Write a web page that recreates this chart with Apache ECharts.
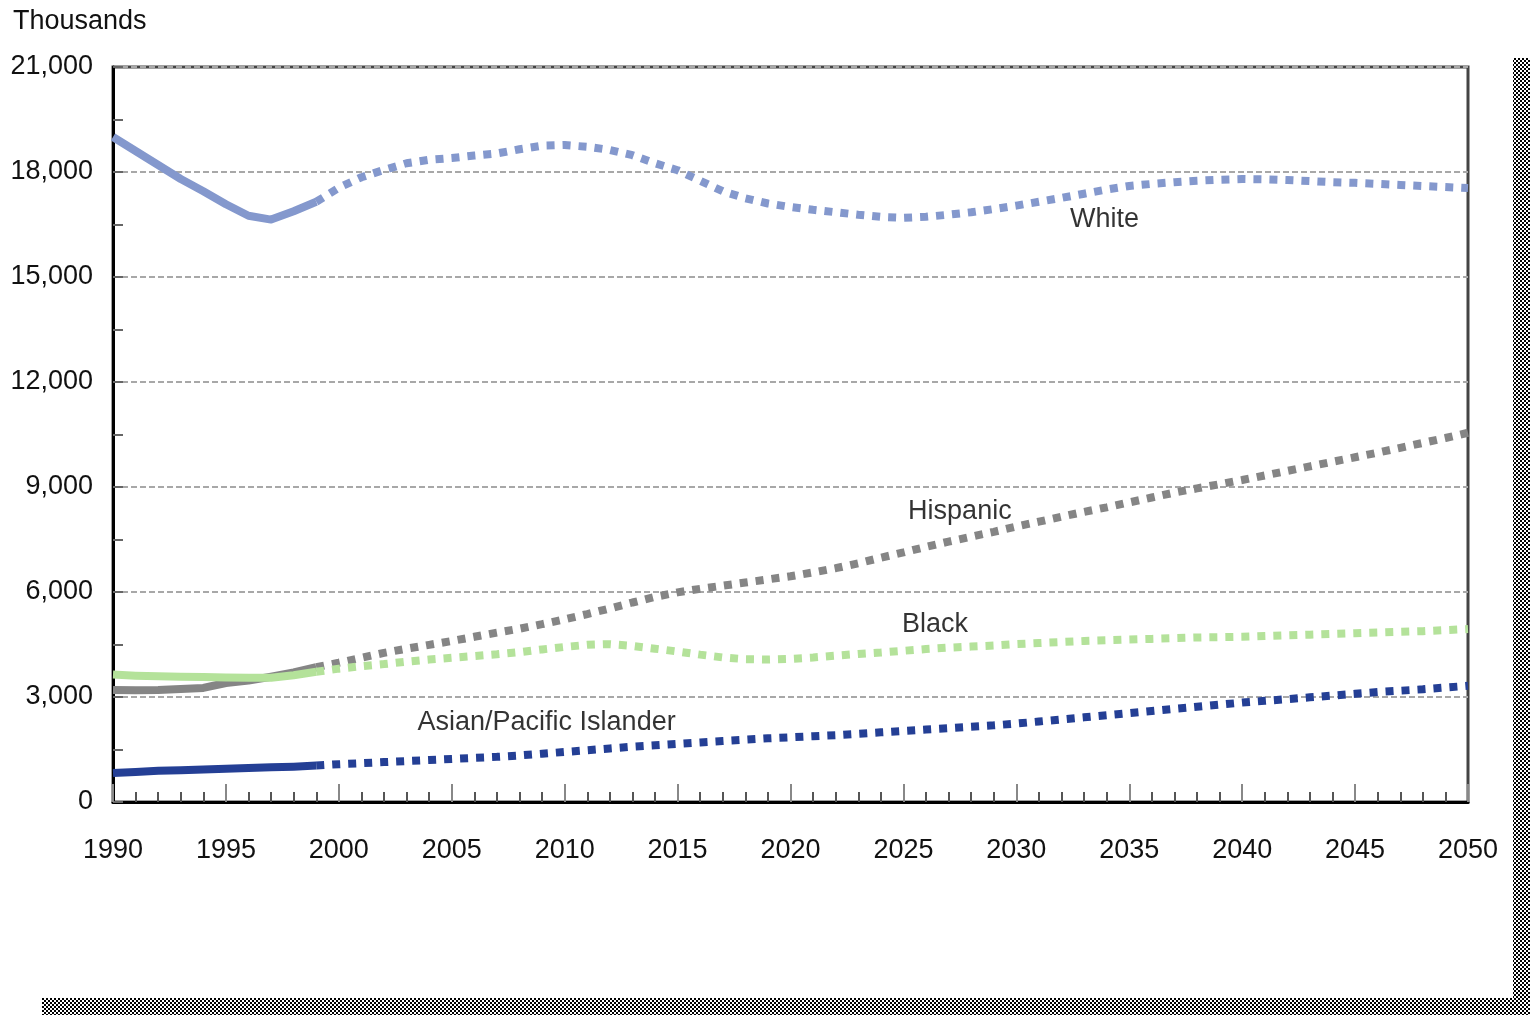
<!DOCTYPE html>
<html>
<head>
<meta charset="utf-8">
<script src="https://cdn.jsdelivr.net/npm/echarts@6/dist/echarts.min.js"></script>
<style>
html, body { margin: 0; padding: 0; background: #fff; }
#main { width: 1530px; height: 1015px; }
</style>
</head>
<body>
<div id="main"></div>
<script>
// yearly values, thousands, 1990..2050 (solid to 1999, projected after)
var years = []
for (var y = 1990; y <= 2050; y++) years.push(y)
var lastActual = 1999

var white = [19000, 18600, 18200, 17800, 17450, 17080, 16750, 16640, 16880, 17150,
  17550, 17850, 18060, 18250, 18350, 18400, 18470, 18530, 18650, 18750,
  18770, 18720, 18630, 18480, 18250, 18050, 17750, 17450, 17250, 17100,
  17000, 16920, 16850, 16780, 16720, 16690, 16720, 16780, 16850, 16940,
  17040, 17150, 17260, 17380, 17500, 17600, 17660, 17710, 17750, 17780,
  17800, 17790, 17770, 17740, 17710, 17690, 17660, 17630, 17600, 17570, 17540]

var hispanic = [3200, 3190, 3200, 3230, 3260, 3400, 3470, 3580, 3700, 3850,
  3980, 4120, 4260, 4380, 4490, 4600, 4720, 4840, 4950, 5080,
  5220, 5370, 5530, 5700, 5860, 5990, 6090, 6180, 6270, 6360,
  6450, 6560, 6680, 6820, 6980, 7130, 7290, 7440, 7580, 7720,
  7870, 8010, 8150, 8290, 8420, 8560, 8700, 8840, 8960, 9080,
  9200, 9330, 9460, 9590, 9720, 9850, 9980, 10120, 10260, 10400, 10550]

var black = [3640, 3610, 3590, 3580, 3570, 3560, 3550, 3550, 3620, 3720,
  3810, 3880, 3940, 4010, 4070, 4120, 4170, 4220, 4280, 4360,
  4430, 4490, 4510, 4460, 4380, 4300, 4210, 4130, 4080, 4070,
  4090, 4130, 4180, 4230, 4270, 4320, 4370, 4410, 4440, 4470,
  4510, 4540, 4570, 4600, 4620, 4640, 4660, 4680, 4700, 4710,
  4720, 4740, 4760, 4780, 4800, 4820, 4840, 4860, 4880, 4910, 4940]

var asian = [830, 860, 890, 910, 930, 950, 970, 990, 1010, 1040,
  1080, 1110, 1140, 1170, 1200, 1230, 1260, 1290, 1330, 1380,
  1430, 1480, 1530, 1580, 1620, 1660, 1700, 1740, 1780, 1820,
  1850, 1880, 1910, 1950, 1990, 2030, 2070, 2110, 2150, 2190,
  2240, 2300, 2360, 2420, 2480, 2540, 2600, 2660, 2720, 2780,
  2840, 2890, 2940, 2990, 3040, 3090, 3140, 3180, 3220, 3270, 3320]

var groups = [
  { name: 'White', values: white, color: '#8498cd' },
  { name: 'Hispanic', values: hispanic, color: '#858585' },
  { name: 'Black', values: black, color: '#b4e29a' },
  { name: 'Asian/Pacific Islander', values: asian, color: '#243f95' }
]

// where the series names sit, in data coords [year, thousands, text]
var nameLabels = [
  [2033.9, 16630, 'White'],
  [2027.5, 8310, 'Hispanic'],
  [2026.4, 5060, 'Black'],
  [2009.2, 2260, 'Asian/Pacific Islander']
]

var yTicks = [0, 3000, 6000, 9000, 12000, 15000, 18000, 21000]

function pairs(vals, from, to) {
  var out = []
  for (var i = 0; i < years.length; i++) {
    if (years[i] >= from && years[i] <= to) out.push([years[i], vals[i]])
  }
  return out
}

var series = []
groups.forEach(function (g) {
  series.push({
    type: 'line', name: g.name, showSymbol: false, silent: true,
    data: pairs(g.values, 1990, lastActual),
    lineStyle: { color: g.color, width: 8, cap: 'butt', join: 'round' }
  })
  series.push({
    type: 'line', name: g.name + ' proj', showSymbol: false, silent: true,
    data: pairs(g.values, lastActual, 2050),
    lineStyle: { color: g.color, width: 8, type: [8, 8], cap: 'butt' }
  })
})
series.push({
  type: 'scatter', silent: true, symbolSize: 0,
  itemStyle: { color: '#000' },
  data: nameLabels,
  label: {
    show: true, position: 'inside', formatter: function (p) { return p.value[2] },
    fontFamily: 'Liberation Sans', fontSize: 27, color: '#000'
  },
  z: 5
})

// checker pattern for the shadow strips
var pat = document.createElement('canvas')
pat.width = 4; pat.height = 4
var pc = pat.getContext('2d')
pc.fillStyle = '#fff'; pc.fillRect(0, 0, 4, 4)
pc.fillStyle = '#000'; pc.fillRect(0, 0, 2, 2); pc.fillRect(2, 2, 2, 2)

var txt = { fontFamily: 'Liberation Sans', fontSize: 27, color: '#111' }

var chart = echarts.init(document.getElementById('main'))
chart.setOption({
  animation: false,
  backgroundColor: '#fff',
  title: {
    text: 'Thousands', left: 8, top: 3,
    textStyle: { fontFamily: 'Liberation Sans', fontSize: 27, fontWeight: 'normal', color: '#111' }
  },
  grid: { left: 113, right: 62, top: 67, bottom: 213, show: true, borderColor: '#444', borderWidth: 3 },
  xAxis: {
    type: 'value', min: 1990, max: 2050, interval: 5,
    axisLine: { lineStyle: { color: '#000', width: 3 } },
    axisTick: { inside: true, length: 18, lineStyle: { color: '#888', width: 2 } },
    minorTick: { show: true, splitNumber: 5, length: 10, lineStyle: { color: '#555', width: 2 } },
    splitLine: { show: false },
    axisLabel: Object.assign({ margin: 35, formatter: function (v) { return String(v) } }, txt)
  },
  yAxis: {
    type: 'value', min: 0, max: 21000, interval: 3000,
    axisLine: { show: true, lineStyle: { color: '#000', width: 3 } },
    axisTick: { show: true, inside: true, length: 10, lineStyle: { color: '#666', width: 2 } },
    minorTick: { show: true, splitNumber: 2, length: 10, lineStyle: { color: '#666', width: 2 } },
    splitLine: { show: true, lineStyle: { color: '#a8a8a8', width: 2, type: [6, 3] } },
    axisLabel: Object.assign({
      margin: 20,
      formatter: function (v) { return yTicks.indexOf(v) >= 0 ? v.toLocaleString('en-US') : '' }
    }, txt)
  },
  graphic: [
    { type: 'rect', shape: { x: 1513, y: 58, width: 17, height: 957 }, style: { fill: { image: pat, repeat: 'repeat' } }, silent: true },
    { type: 'rect', shape: { x: 42, y: 998, width: 1488, height: 17 }, style: { fill: { image: pat, repeat: 'repeat' } }, silent: true }
  ],
  series: series
})
</script>
</body>
</html>
